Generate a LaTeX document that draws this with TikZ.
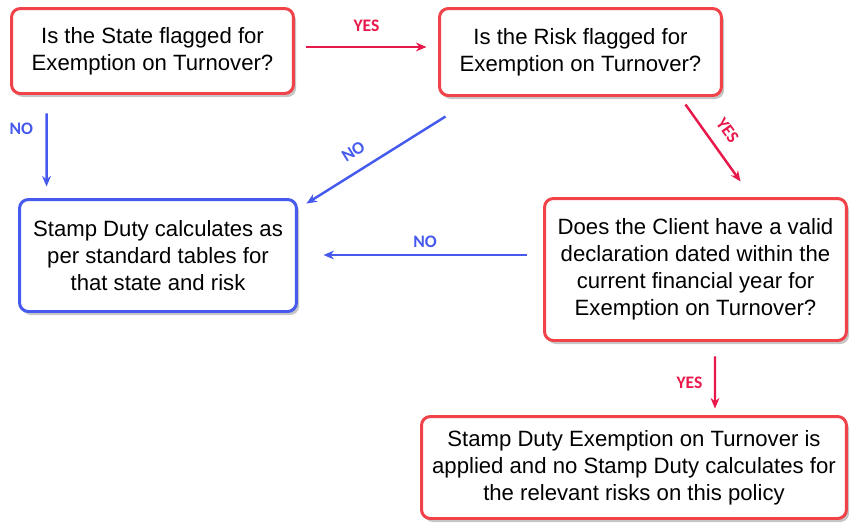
\documentclass[tikz,border=0pt]{standalone}
\usepackage{fontspec}
\setmainfont{Liberation Sans}
\newfontfamily\lblfont{Carlito}
\usetikzlibrary{calc,shadows,arrows.meta}
\definecolor{boxred}{RGB}{240,66,72}
\definecolor{arrred}{RGB}{232,24,74}
\definecolor{boxblue}{RGB}{70,90,238}
\tikzset{
	qbox/.style={draw=boxred, line width=1.7pt, rounded corners=5pt, fill=white, align=center, inner sep=0pt,
		font=\fontsize{12.6}{15.3}\selectfont,
		drop shadow={shadow xshift=1.5pt, shadow yshift=-2pt, opacity=0.45}},
	bluebox/.style={qbox, draw=boxblue},
	yesarr/.style={draw=arrred, line width=1.4pt, -{Stealth[length=6pt,width=5pt]}},
	noarr/.style={draw=boxblue, line width=1.4pt, -{Stealth[length=6pt,width=5pt]}},
	yeslbl/.style={text=arrred, inner sep=0pt, font=\lblfont\bfseries\fontsize{10}{12}\selectfont},
	nolbl/.style={yeslbl, text=boxblue}
}

\begin{document}
\begin{tikzpicture}[x=0.02cm, y=-0.02cm]
		%%%%% START %%%%%
		\useasboundingbox (0, 0) rectangle (850, 522);
		
		\node[qbox, minimum width=5.64cm, minimum height=1.70cm] (state) at (152.5, 51) {Is the State flagged for\\Exemption on Turnover?};
		\node[qbox, minimum width=5.64cm, minimum height=1.74cm] (risk) at (580.5, 52) {Is the Risk flagged for\\Exemption on Turnover?};
		\node[bluebox, minimum width=5.54cm, minimum height=2.24cm] (standard) at (158, 255.5) {Stamp Duty calculates as\\per standard tables for\\that state and risk};
		\node[qbox, minimum width=6.04cm, minimum height=2.84cm] (client) at (695.5, 269.5) {Does the Client have a valid\\declaration dated within the\\current financial year for\\Exemption on Turnover?};
		\node[qbox, minimum width=8.5cm, minimum height=2.04cm] (exempt) at (634, 467.5) {Stamp Duty Exemption on Turnover is\\applied and no Stamp Duty calculates for\\the relevant risks on this policy};
		
		% yes branches
		\draw[yesarr] ($(state.east)+(11.5,-4)$) -- ($(risk.west)+(-11.5,-5)$) node[yeslbl, midway, above=8pt] {YES};
		\draw[yesarr] ($(risk.south east)+(-37.5,7.5)$) -- ($(client.north west)+(197.5,-15.5)$) node[yeslbl, pos=0.48, above=7pt, sloped] {YES};
		\draw[yesarr] ($(client.south)+(19.5,14.5)$) -- ($(exempt.north)+(81,-6.5)$) node[yeslbl, midway, left=6.5pt] {YES};
		
		% no branches
		\draw[noarr] ($(state.south west)+(36.5,18.5)$) -- ($(standard.north west)+(28.5,-11.5)$) node[nolbl, pos=0.21, left=7pt] {NO};
		\draw[noarr] ($(risk.south west)+(7.5,19.5)$) -- ($(standard.north east)+(8.5,5.5)$) node[nolbl, pos=0.59, above=7pt, sloped] {NO};
		\draw[noarr] ($(client.west)+(-16.5,-14.5)$) -- ($(standard.east)+(25.5,-0.5)$) node[nolbl, midway, above=3.5pt] {NO};
		
		%%%%% END %%%%%
	\end{tikzpicture}
\end{document}
